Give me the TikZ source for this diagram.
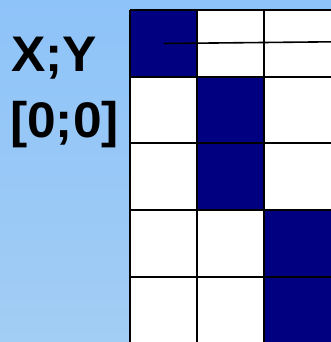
\documentclass[tikz,border=0pt]{standalone}
\usepackage{fontspec}
\setmainfont{Liberation Sans}
\definecolor{navy}{HTML}{000080}
\definecolor{bgtop}{HTML}{8EC3F9}
\definecolor{bgbot}{HTML}{A2CDF4}
\begin{document}
\begin{tikzpicture}[x=1pt,y=-1pt,
  gridline/.style={draw=black,line width=2pt},
  filled/.style={fill=navy},
  lbl/.style={font=\fontsize{50}{50}\selectfont\bfseries,anchor=base west,inner sep=0pt,text=black,xscale=1.03}]
\useasboundingbox (0,0) rectangle (331,342);
\shade[top color=bgtop,bottom color=bgbot] (0,0) rectangle (331,342);
% cells
\fill[white] (130,10) rectangle (333,344);
\fill[filled] (130,10) rectangle (197,77);
\fill[filled] (197,77) rectangle (264,210);
\fill[filled] (264,210) rectangle (333,344);
% grid
\foreach \x in {130,197,264} \draw[gridline] (\x,10) -- (\x,344);
\foreach \y in {10,77,143,210,277} \draw[gridline] (130,\y) -- (333,\y);
% thin line
\draw[black,line width=1.6pt] (164,43.5) -- (333,41.8);
% labels
\node[lbl] (xy) at (11,72) {X;Y};
\node[lbl] (zero) at (10,137) {[0;0]};
\end{tikzpicture}
\end{document}
